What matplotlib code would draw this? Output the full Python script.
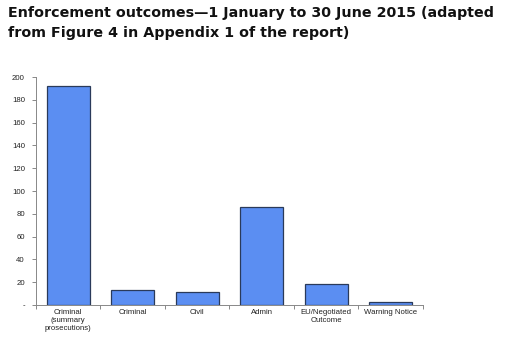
import matplotlib
matplotlib.use("Agg")
import matplotlib.pyplot as plt
import numpy as np

categories = ["Criminal\n(summary\nprosecutions)", "Criminal", "Civil", "Admin",
              "EU/Negotiated\nOutcome", "Warning Notice"]
outcomes = [192, 13, 11, 86, 18, 3]
y_ticks = [0, 20, 40, 60, 80, 100, 120, 140, 160, 180, 200]
y_tick_labels = ["-", "20", "40", "60", "80", "100", "120", "140", "160", "180", "200"]

fig = plt.figure(figsize=(5.09, 3.47), dpi=100)
fig.text(0.016, 0.982,
         "Enforcement outcomes\u20141 January to 30 June 2015 (adapted\nfrom Figure 4 in Appendix 1 of the report)",
         ha="left", va="top", fontsize=10.3, fontweight="bold",
         family="DejaVu Sans", linespacing=1.55, color="#111111")

ax = fig.add_axes([0.0707, 0.121, 0.760, 0.657])
x = np.arange(len(categories))
ax.bar(x, outcomes, width=0.67, color="#5B8EF2", edgecolor="#2A3A5A", linewidth=0.9)

ax.set_xlim(-0.5, len(categories) - 0.5)
ax.set_ylim(0, 200)
ax.set_yticks(y_ticks)
ax.set_yticklabels(y_tick_labels, family="Liberation Sans", fontsize=5.6, color="#222222")

ax.set_xticks(x)
ax.set_xticklabels(categories, family="Liberation Sans", fontsize=5.6, color="#222222",
                   linespacing=1.15)
ax.tick_params(axis="x", length=0, pad=3)
ax.set_xticks(np.arange(-0.5, len(categories), 1.0), minor=True)
ax.tick_params(axis="x", which="minor", length=3, color="#888888", width=0.7)
ax.tick_params(axis="y", length=3, color="#888888", width=0.7, pad=5)

for side in ["top", "right"]:
    ax.spines[side].set_visible(False)
for side in ["left", "bottom"]:
    ax.spines[side].set_color("#888888")
    ax.spines[side].set_linewidth(0.7)

fig.savefig("out.png", dpi=100)
